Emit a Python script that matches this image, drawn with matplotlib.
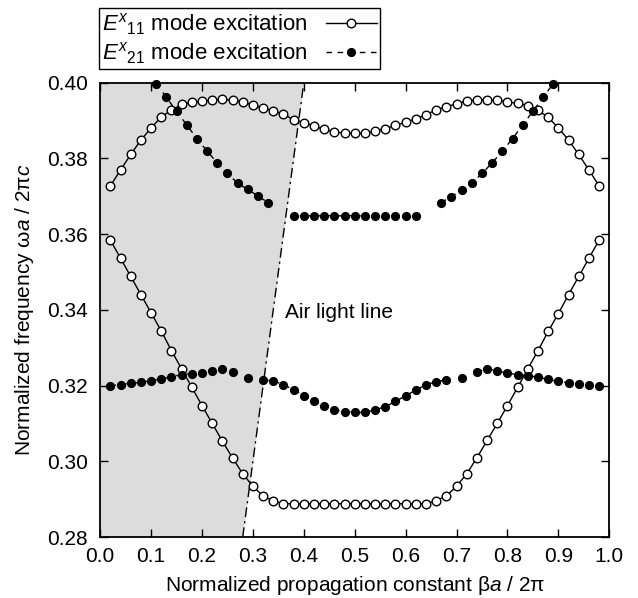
import numpy as np
import matplotlib
matplotlib.use("Agg")
from matplotlib import pyplot as plt

plt.rcParams['font.family'] = ['Liberation Sans', 'DejaVu Sans']
plt.rcParams['mathtext.fontset'] = 'custom'
plt.rcParams['mathtext.rm'] = 'Liberation Sans'
plt.rcParams['mathtext.it'] = 'Liberation Sans:italic'

# E^x_11 mode, upper and lower bands (open circles)
e11_beta = [0.02, 0.04, 0.06, 0.08, 0.10, 0.12, 0.14, 0.16, 0.18, 0.20,
            0.22, 0.24, 0.26, 0.28, 0.30, 0.32, 0.34, 0.36, 0.38, 0.40,
            0.42, 0.44, 0.46, 0.48, 0.50, 0.52, 0.54, 0.56, 0.58, 0.60,
            0.62, 0.64, 0.66, 0.68, 0.70, 0.72, 0.74, 0.76, 0.78, 0.80,
            0.82, 0.84, 0.86, 0.88, 0.90, 0.92, 0.94, 0.96, 0.98]
e11_upper = [0.3727, 0.3769, 0.3810, 0.3848, 0.3880, 0.3909, 0.3927, 0.3942, 0.3948, 0.3951,
             0.3953, 0.3956, 0.3953, 0.3949, 0.3940, 0.3933, 0.3926, 0.3916, 0.3902, 0.3894,
             0.3885, 0.3876, 0.3870, 0.3866, 0.3866, 0.3866, 0.3872, 0.3878, 0.3887, 0.3895,
             0.3904, 0.3915, 0.3928, 0.3936, 0.3944, 0.3951, 0.3954, 0.3955, 0.3953, 0.3949,
             0.3945, 0.3939, 0.3927, 0.3908, 0.3880, 0.3848, 0.3810, 0.3769, 0.3727]
e11_lower = [0.3584, 0.3536, 0.3488, 0.3440, 0.3392, 0.3344, 0.3292, 0.3244, 0.3195, 0.3147,
             0.3100, 0.3053, 0.3009, 0.2967, 0.2934, 0.2908, 0.2895, 0.2888, 0.2888, 0.2888,
             0.2888, 0.2888, 0.2888, 0.2888, 0.2888, 0.2888, 0.2888, 0.2888, 0.2888, 0.2888,
             0.2888, 0.2888, 0.2896, 0.2909, 0.2934, 0.2967, 0.3009, 0.3055, 0.3100, 0.3147,
             0.3195, 0.3244, 0.3292, 0.3343, 0.3390, 0.3440, 0.3488, 0.3536, 0.3584]

# E^x_21 mode, lower band (filled circles)
e21_low_beta = [0.02, 0.04, 0.06, 0.08, 0.10, 0.12, 0.14, 0.16, 0.18, 0.20,
                0.22, 0.24, 0.26, 0.29, 0.32, 0.34, 0.36, 0.38, 0.40, 0.42,
                0.44, 0.46, 0.48, 0.50, 0.52, 0.54, 0.56, 0.58, 0.60, 0.62,
                0.64, 0.66, 0.68, 0.71, 0.74, 0.76, 0.78, 0.80, 0.82, 0.84,
                0.86, 0.88, 0.90, 0.92, 0.94, 0.96, 0.98]
e21_low = [0.3200, 0.3202, 0.3206, 0.3208, 0.3213, 0.3217, 0.3223, 0.3229, 0.3231, 0.3233,
           0.3239, 0.3244, 0.3235, 0.3220, 0.3215, 0.3213, 0.3202, 0.3189, 0.3173, 0.3160,
           0.3147, 0.3136, 0.3131, 0.3129, 0.3129, 0.3136, 0.3144, 0.3158, 0.3173, 0.3188,
           0.3202, 0.3210, 0.3215, 0.3220, 0.3235, 0.3244, 0.3239, 0.3232, 0.3229, 0.3226,
           0.3222, 0.3216, 0.3211, 0.3207, 0.3204, 0.3202, 0.3200]

# E^x_21 mode, upper band (filled circles)
e21_up_beta = [0.11, 0.13, 0.15, 0.17, 0.19, 0.21, 0.23, 0.25, 0.27, 0.29, 0.31, 0.33,
               0.38, 0.40, 0.42, 0.44, 0.46, 0.48, 0.50, 0.52, 0.54, 0.56, 0.58, 0.60, 0.62,
               0.67, 0.69, 0.71, 0.73, 0.75, 0.77, 0.79, 0.81, 0.83, 0.85, 0.87, 0.89]
e21_up = [0.3997, 0.3961, 0.3924, 0.3888, 0.3852, 0.3819, 0.3788, 0.3760, 0.3734, 0.3718, 0.3700, 0.3683,
          0.3648, 0.3648, 0.3648, 0.3648, 0.3648, 0.3648, 0.3648, 0.3648, 0.3648, 0.3648, 0.3648, 0.3648, 0.3648,
          0.3683, 0.3699, 0.3716, 0.3734, 0.3760, 0.3788, 0.3819, 0.3852, 0.3888, 0.3924, 0.3961, 0.3997]

light_beta = [0.28, 0.40]


def with_breaks(x, y, gap=0.025):
    # put NaN between points that are further apart than one grid step
    xs, ys = [x[0]], [y[0]]
    for i in range(1, len(x)):
        if x[i] - x[i - 1] > gap:
            xs.append(np.nan)
            ys.append(np.nan)
        xs.append(x[i])
        ys.append(y[i])
    return xs, ys


FS = 15

fig = plt.figure(figsize=(6.38, 5.98), dpi=100)
ax = fig.add_axes([0.157, 0.102, 0.798, 0.760])

# region above the air light line
ax.fill_betweenx([0.28, 0.40], [0, 0], light_beta, color="#dcdcdc", lw=0, zorder=0)
ax.plot(light_beta, light_beta, color="k", lw=1, dashes=(7, 3, 1.5, 3), zorder=1)
ax.text(0.363, 0.3392, "Air light line", fontsize=FS, va="center", ha="left")

open_kw = dict(color="k", lw=1, marker="o", ms=6.2, mfc="white", mec="k", mew=1, zorder=3)
ax.plot(e11_beta, e11_upper, label=r"$\mathit{E}^{\mathit{x}}{}_{11}$ mode excitation", **open_kw)
ax.plot(e11_beta, e11_lower, **open_kw)

fill_kw = dict(color="k", lw=1, dashes=(4, 4), marker="o", ms=5.6, mfc="k", mec="k", zorder=4, clip_on=False)
xs, ys = with_breaks(e21_up_beta, e21_up)
ax.plot(xs, ys, label=r"$\mathit{E}^{\mathit{x}}{}_{21}$ mode excitation", **fill_kw)
xs, ys = with_breaks(e21_low_beta, e21_low)
ax.plot(xs, ys, **fill_kw)

ax.set_xlim(0.0, 1.0)
ax.set_ylim(0.28, 0.40)
ax.set_xticks(np.arange(0, 1.01, 0.1))
ax.set_yticks(np.arange(0.28, 0.401, 0.02))
ax.set_xticklabels([f"{v:.1f}" for v in np.arange(0, 1.01, 0.1)])
ax.set_yticklabels([f"{v:.2f}" for v in np.arange(0.28, 0.401, 0.02)])
ax.tick_params(direction="in", length=6, width=1, top=True, right=True, labelsize=FS)
ax.tick_params(axis="x", pad=7)
ax.tick_params(axis="y", pad=9)
for s in ax.spines.values():
    s.set_linewidth(1.3)

ax.set_xlabel(r"Normalized propagation constant β$\mathit{a}$ / 2π", fontsize=FS, labelpad=6)
ax.set_ylabel(r"Normalized frequency ω$\mathit{a}$ / 2π$\mathit{c}$", fontsize=FS, labelpad=8)

leg = ax.legend(loc="lower left", bbox_to_anchor=(-0.002, 1.03), markerfirst=False,
                fontsize=16, frameon=True, fancybox=False, edgecolor="k", framealpha=1,
                borderaxespad=0, handlelength=2.3, borderpad=0.15, labelspacing=0.12,
                handletextpad=0.8)
leg.get_frame().set_linewidth(1)

fig.savefig("out.png", dpi=100)
